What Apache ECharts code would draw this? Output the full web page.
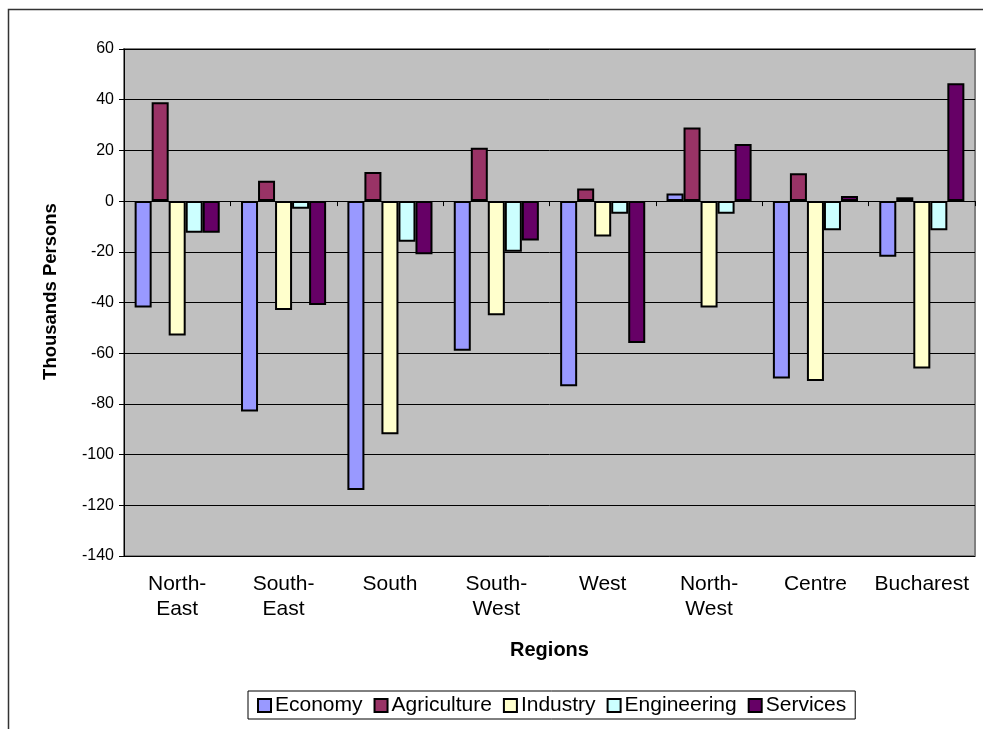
<!DOCTYPE html>
<html>
<head>
<meta charset="utf-8">
<script src="https://cdn.jsdelivr.net/npm/echarts@6/dist/echarts.min.js"></script>
<style>
  html, body { margin: 0; padding: 0; background: #fff; }
  #chart { width: 983px; height: 729px; }
</style>
</head>
<body>
<div id="chart"></div>
<script>
// Employment change by region, thousands of persons
const regions = ['North-\nEast', 'South-\nEast', 'South', 'South-\nWest', 'West', 'North-\nWest', 'Centre', 'Bucharest'];
const economy     = [-42, -83, -114, -59, -73, 3, -70, -22];
const agriculture = [39, 8, 11.5, 21, 5, 29, 11, 1.5];
const industry    = [-53, -43, -92, -45, -14, -42, -71, -66];
const engineering = [-12.5, -3, -16, -20, -5, -5, -11.5, -11.5];
const services    = [-12.5, -41, -21, -15.5, -56, 22.5, 2, 46.5];
const yTicks = { min: -140, max: 60, step: 20 };

const seriesDefs = [
  { name: 'Economy', data: economy, color: '#9999FF' },
  { name: 'Agriculture', data: agriculture, color: '#993366' },
  { name: 'Industry', data: industry, color: '#FFFFCC' },
  { name: 'Engineering', data: engineering, color: '#CCFFFF' },
  { name: 'Services', data: services, color: '#660066' }
];

const font = 'Liberation Sans, Arial, sans-serif';
const chart = echarts.init(document.getElementById('chart'), null, { renderer: 'canvas' });

chart.setOption({
  animation: false,
  backgroundColor: '#fff',
  textStyle: { fontFamily: font, color: '#000' },
  graphic: [{
    type: 'rect',
    shape: { x: 8.5, y: 9.5, width: 1000, height: 1000 },
    style: { fill: 'none', stroke: '#333', lineWidth: 1.5 },
    silent: true,
    z: -1
  }],
  grid: {
    left: 124, right: 8, top: 49, bottom: 173,
    show: true,
    backgroundColor: '#C0C0C0',
    borderColor: '#808080',
    borderWidth: 2
  },
  legend: {
    left: 248, top: 691,
    data: seriesDefs.map(s => s.name),
    icon: 'rect',
    itemWidth: 13, itemHeight: 13, itemGap: 11,
    padding: [4, 9, 3, 9],
    borderColor: '#000', borderWidth: 1,
    textStyle: { fontFamily: font, fontSize: 21, color: '#000', padding: [0, 0, 0, -1] },
    itemStyle: { borderColor: '#000', borderWidth: 2 }
  },
  xAxis: [{
    // axis along the zero line with category tick marks
    type: 'category',
    data: regions,
    axisLine: { onZero: true, lineStyle: { color: '#000', width: 1 } },
    axisTick: { show: true, length: 5, lineStyle: { color: '#000' } },
    axisLabel: { show: false }
  }, {
    // labels and title along the bottom edge
    type: 'category',
    data: regions,
    position: 'bottom',
    axisLine: { show: false, onZero: false },
    axisTick: { show: false },
    axisLabel: { fontFamily: font, fontSize: 21, color: '#000', lineHeight: 25, margin: 16, interval: 0 },
    name: 'Regions',
    nameLocation: 'middle',
    nameGap: 84,
    nameTextStyle: { fontFamily: font, fontSize: 20, fontWeight: 'bold', color: '#000' }
  }],
  yAxis: {
    type: 'value',
    min: yTicks.min, max: yTicks.max, interval: yTicks.step,
    axisLine: { show: true, lineStyle: { color: '#000', width: 1 } },
    axisTick: { show: true, length: 5, lineStyle: { color: '#000' } },
    axisLabel: { fontFamily: font, fontSize: 16, color: '#000', margin: 10 },
    splitLine: { show: true, lineStyle: { color: '#000', width: 1 } },
    name: 'Thousands Persons',
    nameLocation: 'middle',
    nameGap: 64,
    nameTextStyle: { fontFamily: font, fontSize: 18.5, fontWeight: 'bold', color: '#000', padding: [0, 0, 0, 22] }
  },
  series: seriesDefs.map(s => ({
    name: s.name,
    type: 'bar',
    xAxisIndex: 0,
    data: s.data,
    barGap: '0%',
    barCategoryGap: '20%',
    itemStyle: { color: s.color, borderColor: '#000', borderWidth: 2 }
  }))
});
</script>
</body>
</html>
